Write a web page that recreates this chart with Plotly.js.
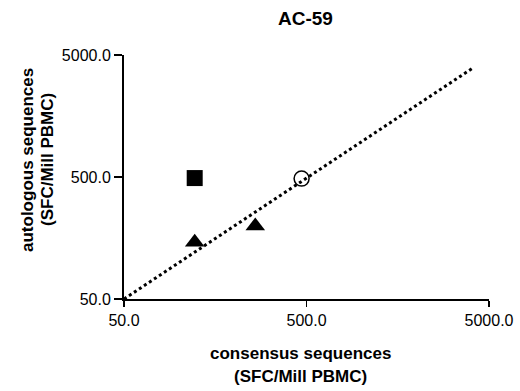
<!DOCTYPE html>
<html>
<head>
<meta charset="utf-8">
<script src="https://cdn.plot.ly/plotly-3.0.1.min.js"></script>
<style>html,body{margin:0;padding:0;background:#fff;}#chart{width:520px;height:391px;}</style>
</head>
<body>
<div id="chart"></div>
<script>
// Data (log-log axes)
var squareX = [122];
var squareY = [490];
var triangleX = [122, 262];
var triangleY = [146, 198];
var circleX = [470];
var circleY = [485];
var refLineX = [50, 4075];
var refLineY = [50, 3910];
var tickVals = [50, 500, 5000];
var tickText = ["50.0", "500.0", "5000.0"];
var chartTitle = "AC-59";
var xTitleLines = ["consensus sequences", "(SFC/Mill PBMC)"];
var yTitleLines = ["autologous sequences", "(SFC/Mill PBMC)"];

var font = "Liberation Sans, Arial, sans-serif";

var traces = [
  {x: refLineX, y: refLineY, mode: "lines", type: "scatter",
   line: {color: "#000", width: 3, dash: "dot"}, hoverinfo: "skip"},
  {x: squareX, y: squareY, mode: "markers", type: "scatter",
   marker: {symbol: "square", size: 16, color: "#000"}},
  {x: triangleX, y: triangleY, mode: "markers", type: "scatter",
   marker: {symbol: "triangle-up", size: 17, color: "#000"}},
  {x: circleX, y: circleY, mode: "markers", type: "scatter",
   marker: {symbol: "circle-open", size: 15, color: "#000", line: {width: 1.5, color: "#000"}}}
];

function ann(text, x, y, size, angle) {
  return {text: "<b>" + text + "</b>", xref: "paper", yref: "paper",
          x: x, y: y, xanchor: "center", yanchor: "middle", showarrow: false,
          textangle: angle || 0, font: {family: font, size: size, color: "#000"}};
}

// paper coords: plot spans x 124..489 px, y 55..299 px
function px(xp) { return (xp - 124) / (489 - 124); }
function py(yp) { return (299 - yp) / (299 - 55); }

var layout = {
  width: 520, height: 391,
  margin: {l: 124, r: 31, t: 55, b: 92},
  paper_bgcolor: "#fff", plot_bgcolor: "#fff",
  showlegend: false,
  font: {family: font, color: "#000", size: 16},
  annotations: [
    ann(chartTitle, px(305), py(18), 19),
    ann(xTitleLines[0], px(300), py(353), 17),
    ann(xTitleLines[1], px(300), py(376), 17),
    ann(yTitleLines[0], px(27), py(160), 17, -90),
    ann(yTitleLines[1], px(47), py(160), 17, -90)
  ],
  xaxis: {
    type: "log", range: [Math.log10(50), Math.log10(5000)],
    tickvals: tickVals, ticktext: tickText,
    showline: true, linecolor: "#000", linewidth: 2,
    ticks: "outside", ticklen: 6, tickwidth: 1.5, tickcolor: "#000",
    showgrid: false, zeroline: false,
    tickfont: {family: font, size: 16, color: "#000"}
  },
  yaxis: {
    type: "log", range: [Math.log10(50), Math.log10(5000)],
    tickvals: tickVals, ticktext: tickText,
    showline: true, linecolor: "#000", linewidth: 2,
    ticks: "outside", ticklen: 8, tickwidth: 1.5, tickcolor: "#000",
    showgrid: false, zeroline: false,
    tickfont: {family: font, size: 16, color: "#000"}
  }
};

Plotly.newPlot("chart", traces, layout, {displayModeBar: false, staticPlot: true});
</script>
</body>
</html>
